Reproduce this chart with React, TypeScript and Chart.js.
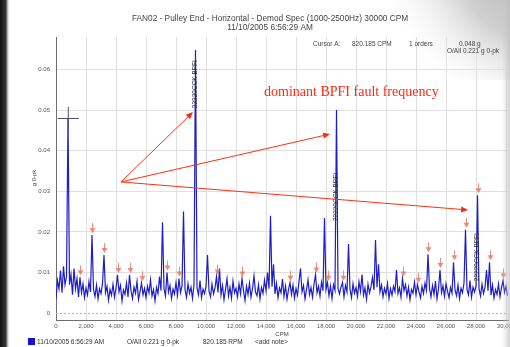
import { useEffect, useRef } from 'react';
import { Chart, registerables } from 'chart.js';

Chart.register(...registerables);

// Demodulated spectrum, one amplitude (g 0-pk) per 100 CPM bin, 0 .. 30,100 CPM
const BIN_CPM = 100;
const spectrumG = [
  0.0035, 0.0080, 0.0060, 0.0105, 0.0050, 0.0115, 0.0070, 0.0090, 0.0480, 0.0070, 0.0095, 0.0045, 0.0110, 0.0060, 0.0085, 0.0040, 0.0088, 0.0050, 0.0072, 0.0038,
  0.0062, 0.0045, 0.0078, 0.0052, 0.0192, 0.0058, 0.0041, 0.0069, 0.0035, 0.0060, 0.0048, 0.0073, 0.0143, 0.0050, 0.0066, 0.0032, 0.0058, 0.0044, 0.0071, 0.0039,
  0.0061, 0.0094, 0.0052, 0.0068, 0.0030, 0.0057, 0.0046, 0.0074, 0.0040, 0.0094, 0.0055, 0.0036, 0.0064, 0.0049, 0.0078, 0.0033, 0.0052, 0.0074, 0.0045, 0.0061,
  0.0038, 0.0066, 0.0050, 0.0082, 0.0042, 0.0058, 0.0030, 0.0063, 0.0048, 0.0090, 0.0055, 0.0224, 0.0060, 0.0042, 0.0100, 0.0052, 0.0068, 0.0036, 0.0059, 0.0047,
  0.0075, 0.0044, 0.0085, 0.0050, 0.0067, 0.0250, 0.0058, 0.0039, 0.0072, 0.0049, 0.0064, 0.0036, 0.0070, 0.0648, 0.0062, 0.0045, 0.0080, 0.0038, 0.0059, 0.0048,
  0.0066, 0.0143, 0.0054, 0.0040, 0.0071, 0.0047, 0.0062, 0.0090, 0.0051, 0.0110, 0.0045, 0.0068, 0.0033, 0.0058, 0.0085, 0.0042, 0.0064, 0.0037, 0.0079, 0.0050,
  0.0061, 0.0040, 0.0072, 0.0048, 0.0085, 0.0056, 0.0031, 0.0066, 0.0046, 0.0074, 0.0039, 0.0060, 0.0092, 0.0052, 0.0043, 0.0070, 0.0035, 0.0063, 0.0049, 0.0081,
  0.0055, 0.0100, 0.0060, 0.0240, 0.0065, 0.0120, 0.0047, 0.0073, 0.0038, 0.0062, 0.0050, 0.0084, 0.0041, 0.0067, 0.0034, 0.0058, 0.0075, 0.0046, 0.0069, 0.0037,
  0.0060, 0.0044, 0.0078, 0.0110, 0.0052, 0.0068, 0.0035, 0.0057, 0.0082, 0.0046, 0.0063, 0.0039, 0.0071, 0.0095, 0.0050, 0.0066, 0.0042, 0.0076, 0.0055, 0.0234,
  0.0058, 0.0075, 0.0043, 0.0067, 0.0036, 0.0070, 0.0056, 0.0500, 0.0061, 0.0047, 0.0064, 0.0075, 0.0040, 0.0068, 0.0052, 0.0170, 0.0059, 0.0038, 0.0072, 0.0049,
  0.0063, 0.0041, 0.0077, 0.0053, 0.0095, 0.0044, 0.0062, 0.0034, 0.0071, 0.0050, 0.0065, 0.0088, 0.0057, 0.0180, 0.0064, 0.0120, 0.0052, 0.0069, 0.0040, 0.0061,
  0.0047, 0.0073, 0.0036, 0.0060, 0.0044, 0.0066, 0.0053, 0.0106, 0.0048, 0.0062, 0.0039, 0.0085, 0.0055, 0.0070, 0.0042, 0.0064, 0.0033, 0.0058, 0.0049, 0.0076,
  0.0045, 0.0070, 0.0052, 0.0037, 0.0066, 0.0048, 0.0074, 0.0056, 0.0145, 0.0061, 0.0040, 0.0068, 0.0046, 0.0079, 0.0035, 0.0060, 0.0106, 0.0050, 0.0067, 0.0041,
  0.0072, 0.0054, 0.0038, 0.0063, 0.0049, 0.0125, 0.0057, 0.0043, 0.0069, 0.0036, 0.0061, 0.0050, 0.0074, 0.0205, 0.0058, 0.0045, 0.0080, 0.0039, 0.0064, 0.0052,
  0.0067, 0.0290, 0.0060, 0.0042, 0.0071, 0.0048, 0.0063, 0.0106, 0.0055, 0.0125, 0.0044, 0.0069, 0.0037, 0.0058, 0.0046, 0.0072, 0.0040, 0.0063, 0.0080, 0.0051,
  0.0066, 0.0043,
];

const xTickValues = [0, 2000, 4000, 6000, 8000, 10000, 12000, 14000, 16000, 18000, 20000, 22000, 24000, 26000, 28000, 30000];
const yTickValues = [0, 0.01, 0.02, 0.03, 0.04, 0.05, 0.06];

// Fault-frequency markers (CPM) flagged with small arrows above the spectral lines
const markerCpm = [1600, 2400, 3200, 4100, 4900, 5700, 7400, 8200, 10700, 12400, 15600, 17300, 18100, 19100, 23100, 24100, 24800, 25600, 26500, 27300, 28100, 28900, 29800];

// Labels written along the BPFI harmonic lines
const bpfiLabelCpm = [9300, 18700, 28100];
const bpfiLabelTopG = [0.0623, 0.0345, 0.0197];
const bpfiLabelText = ['22220CCK BPFI', '22220CCK BPFI', '22220CCK BPFI'];

// Cursor A
const cursorCpm = 820;
const cursorG = 0.048;

// Callout: text anchor and arrows, in CPM / g
const calloutText = 'dominant BPFI fault frequency';
const calloutTextAt = [13870, 0.0534];
const calloutFrom = [4330, 0.0323];
const calloutTargets = [
  [9130, 0.0495],
  [18270, 0.0441],
  [27470, 0.0254],
];

const titleLines = ['FAN02 - Pulley End - Horizontal - Demod Spec (1000-2500Hz) 30000 CPM', '11/10/2005 6:56:29 AM'];
const cursorReadout = ['Cursor A:', '820.185 CPM', '1 orders', '0.048 g'];
const overallReadout = 'O/All 0.221 g 0-pk';
const footerItems = ['11/10/2005 6:56:29 AM', 'O/All 0.221 g 0-pk', '820.185 RPM', '<add note>'];

const SANS = '"Liberation Sans", Arial, sans-serif';
const LINE_BLUE = '#1e1ec8';

function drawArrow(ctx: CanvasRenderingContext2D, x0: number, y0: number, x1: number, y1: number, head: number, half: number) {
  const ang = Math.atan2(y1 - y0, x1 - x0);
  const bx = x1 - Math.cos(ang) * head;
  const by = y1 - Math.sin(ang) * head;
  ctx.beginPath();
  ctx.moveTo(x0, y0);
  ctx.lineTo(bx, by);
  ctx.stroke();
  ctx.beginPath();
  ctx.moveTo(x1, y1);
  ctx.lineTo(bx + Math.sin(ang) * half, by - Math.cos(ang) * half);
  ctx.lineTo(bx - Math.sin(ang) * half, by + Math.cos(ang) * half);
  ctx.closePath();
  ctx.fill();
}

const panelPlugin = {
  id: 'panel',
  beforeDraw(chart: any) {
    const { ctx, width, height } = chart;
    ctx.save();
    ctx.fillStyle = '#ffffff';
    ctx.fillRect(0, 0, width, height);
    // slide backdrop at the top right corner
    const corner = ctx.createRadialGradient(560, -60, 10, 560, -60, 190);
    corner.addColorStop(0, '#a9a9a9');
    corner.addColorStop(0.55, '#cfcfcf');
    corner.addColorStop(1, 'rgba(255,255,255,0)');
    ctx.fillStyle = corner;
    ctx.fillRect(300, 0, width - 300, 80);
    // dark slide edge on the left
    const edge = ctx.createLinearGradient(0, 0, 10, 0);
    edge.addColorStop(0, '#111111');
    edge.addColorStop(0.6, '#3a3a3a');
    edge.addColorStop(1, 'rgba(255,255,255,0)');
    ctx.fillStyle = edge;
    ctx.fillRect(0, 0, 10, height);
    ctx.restore();
  },
  afterDatasetsDraw(chart: any) {
    const { ctx, chartArea } = chart;
    const xs = chart.scales.x;
    const ys = chart.scales.y;
    ctx.save();
    // dotted zero line
    const y0 = Math.round(ys.getPixelForValue(0)) + 0.5;
    ctx.strokeStyle = '#b5b5b5';
    ctx.lineWidth = 1;
    ctx.setLineDash([2, 2]);
    ctx.beginPath();
    ctx.moveTo(chartArea.left, y0);
    ctx.lineTo(chartArea.right, y0);
    ctx.stroke();
    ctx.setLineDash([]);

    // BPFI labels
    ctx.fillStyle = '#2e2e2e';
    ctx.font = `6.5px ${SANS}`;
    ctx.textAlign = 'right';
    ctx.textBaseline = 'middle';
    bpfiLabelCpm.forEach((cpm, i) => {
      const px = xs.getPixelForValue(cpm);
      const py = ys.getPixelForValue(bpfiLabelTopG[i]);
      ctx.save();
      ctx.translate(px, py);
      ctx.rotate(-Math.PI / 2);
      ctx.fillText(bpfiLabelText[i], 0, 0);
      ctx.restore();
    });

    // fault-frequency arrows
    ctx.strokeStyle = 'rgba(232,112,92,0.8)';
    ctx.fillStyle = 'rgba(232,112,92,0.8)';
    ctx.lineWidth = 1;
    markerCpm.forEach((cpm) => {
      const g = spectrumG[Math.round(cpm / BIN_CPM)];
      const px = Math.round(xs.getPixelForValue(cpm)) + 0.5;
      const py = ys.getPixelForValue(g) - 2;
      ctx.beginPath();
      ctx.moveTo(px, py - 10);
      ctx.lineTo(px, py - 4);
      ctx.stroke();
      ctx.beginPath();
      ctx.moveTo(px, py);
      ctx.lineTo(px - 3, py - 5);
      ctx.lineTo(px + 3, py - 5);
      ctx.closePath();
      ctx.fill();
    });

    // cursor crosshair
    const cx = xs.getPixelForValue(cursorCpm);
    const cy = Math.round(ys.getPixelForValue(cursorG)) + 0.5;
    ctx.strokeStyle = '#4c4c6a';
    ctx.beginPath();
    ctx.moveTo(xs.getPixelForValue(cursorCpm - 700), cy);
    ctx.lineTo(xs.getPixelForValue(cursorCpm + 700), cy);
    ctx.moveTo(cx, ys.getPixelForValue(cursorG + 0.0028));
    ctx.lineTo(cx, ys.getPixelForValue(cursorG - 0.0028));
    ctx.stroke();
    ctx.restore();
  },
  afterDraw(chart: any) {
    const { ctx, width } = chart;
    const xs = chart.scales.x;
    const ys = chart.scales.y;
    ctx.save();
    ctx.fillStyle = '#444';
    ctx.textBaseline = 'middle';
    ctx.textAlign = 'center';
    ctx.font = `8.3px ${SANS}`;
    ctx.fillText(titleLines[0], 270, 19);
    ctx.fillText(titleLines[1], 270, 28);

    ctx.font = `6.5px ${SANS}`;
    ctx.textAlign = 'left';
    const readX = [313, 352, 409, 459];
    cursorReadout.forEach((t, i) => ctx.fillText(t, readX[i], 44));
    ctx.fillText(overallReadout, 447, 51);

    // axis titles
    ctx.font = `6px ${SANS}`;
    ctx.textAlign = 'center';
    ctx.fillText('CPM', 282, 334);
    ctx.save();
    ctx.translate(34, 178);
    ctx.rotate(-Math.PI / 2);
    ctx.fillText('g 0-pk', 0, 0);
    ctx.restore();

    // footer legend
    ctx.fillStyle = '#1212d8';
    ctx.fillRect(28, 338, 7, 7);
    ctx.fillStyle = '#333';
    ctx.font = `6.5px ${SANS}`;
    ctx.textAlign = 'left';
    const footX = [37, 127, 203, 255];
    footerItems.forEach((t, i) => ctx.fillText(t, footX[i], 342));

    // callout
    ctx.fillStyle = '#ff2a10';
    ctx.strokeStyle = '#ff3010';
    ctx.lineWidth = 1;
    ctx.font = `14px "Liberation Serif", "Times New Roman", serif`;
    ctx.textBaseline = 'alphabetic';
    ctx.fillText(calloutText, xs.getPixelForValue(calloutTextAt[0]), ys.getPixelForValue(calloutTextAt[1]));
    const fx = xs.getPixelForValue(calloutFrom[0]);
    const fy = ys.getPixelForValue(calloutFrom[1]);
    calloutTargets.forEach(([c, g]) => {
      drawArrow(ctx, fx, fy, xs.getPixelForValue(c), ys.getPixelForValue(g), 7, 3);
    });

    // slide shading on the right edge
    const rEdge = ctx.createLinearGradient(width - 8, 0, width, 0);
    rEdge.addColorStop(0, 'rgba(200,200,200,0)');
    rEdge.addColorStop(1, 'rgba(190,190,190,0.7)');
    ctx.fillStyle = rEdge;
    ctx.fillRect(width - 8, 0, 8, chart.height);
    ctx.restore();
  },
};

export default function App() {
  const canvasRef = useRef<HTMLCanvasElement | null>(null);

  useEffect(() => {
    const canvas = canvasRef.current;
    if (!canvas) return;
    const points = spectrumG.map((g, i) => ({ x: i * BIN_CPM, y: g }));
    const chart = new Chart(canvas, {
      type: 'line',
      data: {
        datasets: [
          {
            data: points,
            borderColor: LINE_BLUE,
            borderWidth: 1.2,
            pointRadius: 0,
            tension: 0,
            fill: false,
          },
        ],
      },
      options: {
        responsive: false,
        animation: false,
        devicePixelRatio: 1,
        layout: { padding: { top: 37, right: 2, left: 0, bottom: 0 } },
        plugins: {
          legend: { display: false },
          tooltip: { enabled: false },
          title: { display: false },
        },
        scales: {
          x: {
            type: 'linear',
            min: 0,
            max: 30133,
            afterBuildTicks: (s: any) => {
              s.ticks = xTickValues.map((value) => ({ value }));
            },
            afterFit: (s: any) => {
              s.height = 27;
              s.paddingLeft = 0;
              s.paddingRight = 0;
            },
            grid: { color: '#e0e0e0', drawTicks: false },
            border: { color: '#6e6e6e' },
            ticks: {
              padding: 3,
              autoSkip: false,
              maxRotation: 0,
              color: '#555',
              font: { family: SANS, size: 6 },
              callback: (v: any) => (v === 0 ? '0' : Number(v).toLocaleString('en-US')),
            },
          },
          y: {
            type: 'linear',
            min: -0.0017,
            max: 0.068,
            afterBuildTicks: (s: any) => {
              s.ticks = yTickValues.map((value) => ({ value }));
            },
            afterFit: (s: any) => {
              s.width = 56;
              s.paddingTop = 0;
              s.paddingBottom = 0;
            },
            grid: {
              color: (c: any) => (c.tick && c.tick.value === 0 ? 'rgba(0,0,0,0)' : '#e0e0e0'),
              drawTicks: false,
            },
            border: { color: '#6e6e6e' },
            ticks: {
              padding: 6,
              color: '#555',
              font: { family: SANS, size: 6 },
              callback: (v: any) => (v === 0 ? '0' : Number(v).toFixed(2)),
            },
          },
        },
      },
      plugins: [panelPlugin],
    });
    return () => chart.destroy();
  }, []);

  return (
    <div style={{ position: 'fixed', left: 0, top: 0, width: 510, height: 347, overflow: 'hidden', background: '#fff' }}>
      <canvas ref={canvasRef} width={510} height={347} style={{ display: 'block' }} />
    </div>
  );
}
